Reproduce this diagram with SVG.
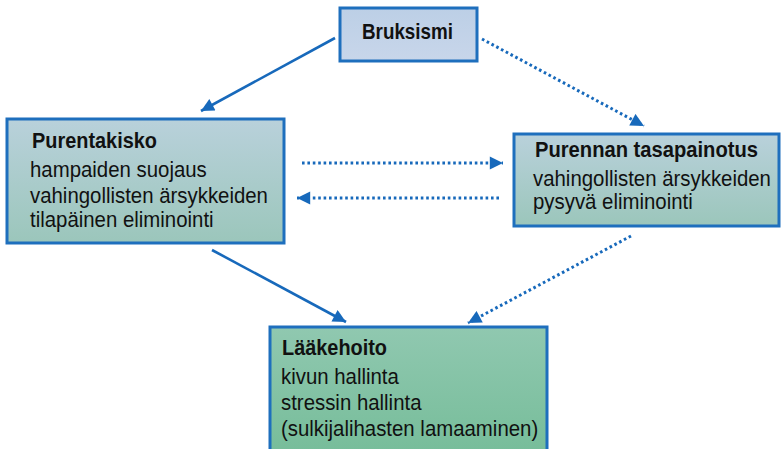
<svg xmlns="http://www.w3.org/2000/svg" width="781" height="449" viewBox="0 0 781 449">
<style>
.box{stroke:#1e6fbd;stroke-width:3}
.t{font-family:"Liberation Sans",Arial,sans-serif;font-size:22px;fill:#111}
.b{font-weight:bold;font-size:22px}
.ln{stroke:#1769bb;stroke-width:2.6;fill:none}
.dot{stroke:#1769bb;stroke-width:3;fill:none;stroke-dasharray:2.6 2.8}
</style>
<defs>
<linearGradient id="gBlue" x1="0" y1="0" x2="0" y2="1"><stop offset="0" stop-color="#bccfe6"/><stop offset="1" stop-color="#c8d6ea"/></linearGradient>
<linearGradient id="gTeal" x1="0" y1="0" x2="0" y2="1"><stop offset="0" stop-color="#b9d1db"/><stop offset="1" stop-color="#9bc6bb"/></linearGradient>
<linearGradient id="gGreen" x1="0" y1="0" x2="0" y2="1"><stop offset="0" stop-color="#90c8b0"/><stop offset="1" stop-color="#77bd9a"/></linearGradient>
<marker id="ah" viewBox="0 0 10 10" refX="10" refY="5" markerWidth="5.4" markerHeight="5" markerUnits="strokeWidth" orient="auto"><path d="M0,0 L10,5 L0,10 z" fill="#1769bb"/></marker>
<marker id="ahd" viewBox="0 0 10 10" refX="10" refY="5" markerWidth="4.8" markerHeight="4.4" markerUnits="strokeWidth" orient="auto"><path d="M0,0 L10,5 L0,10 z" fill="#1769bb"/></marker>
</defs>
<g id="connectors">
<line class="ln" x1="335" y1="38" x2="201" y2="111" marker-end="url(#ah)"/>
<line class="dot" x1="482" y1="39" x2="644" y2="126" marker-end="url(#ahd)"/>
<line class="dot" x1="302" y1="163" x2="503" y2="163" marker-end="url(#ahd)"/>
<line class="dot" x1="499" y1="198" x2="297" y2="198" marker-end="url(#ahd)"/>
<line class="ln" x1="212" y1="250" x2="346" y2="322" marker-end="url(#ah)"/>
<line class="dot" x1="631" y1="236" x2="468" y2="323" marker-end="url(#ahd)"/>
</g>
<g id="bruksismi">
<rect class="box" x="340" y="8" width="137" height="53" fill="url(#gBlue)"/>
<text class="t b" x="362" y="39" textLength="91" lengthAdjust="spacingAndGlyphs">Bruksismi</text>
</g>
<g id="purentakisko">
<rect class="box" x="7" y="119" width="277" height="124" fill="url(#gTeal)"/>
<text class="t b" x="32" y="148" textLength="125" lengthAdjust="spacingAndGlyphs">Purentakisko</text>
<g transform="matrix(0.927 0 0 1 2.19 0)">
<text class="t" x="30" y="177">hampaiden suojaus</text>
<text class="t" x="30" y="203">vahingollisten ärsykkeiden</text>
<text class="t" x="30" y="227">tilapäinen eliminointi</text>
</g>
</g>
<g id="purennan-tasapainotus">
<rect class="box" x="514" y="134" width="265" height="92" fill="url(#gTeal)"/>
<text class="t b" x="535" y="157" textLength="223" lengthAdjust="spacingAndGlyphs">Purennan tasapainotus</text>
<g transform="matrix(0.927 0 0 1 38.9 0)">
<text class="t" x="533" y="186">vahingollisten ärsykkeiden</text>
<text class="t" x="533" y="209">pysyvä eliminointi</text>
</g>
</g>
<g id="laakehoito">
<rect class="box" x="270" y="327" width="277" height="125" fill="url(#gGreen)"/>
<text class="t b" x="282" y="355" textLength="105" lengthAdjust="spacingAndGlyphs">Lääkehoito</text>
<g transform="matrix(0.927 0 0 1 20.5 0)">
<text class="t" x="281" y="384">kivun hallinta</text>
<text class="t" x="281" y="410">stressin hallinta</text>
<text class="t" x="281" y="436">(sulkijalihasten lamaaminen)</text>
</g>
</g>
</svg>
